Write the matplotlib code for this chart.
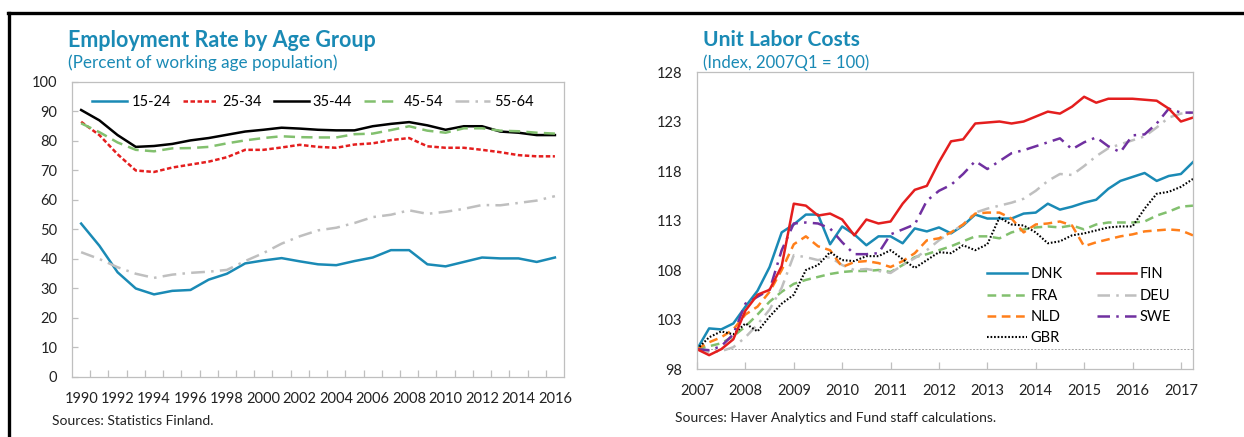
from __future__ import annotations

import numpy as np
import matplotlib
from matplotlib.figure import Figure
from matplotlib.lines import Line2D

matplotlib.rcParams["font.family"] = ["Lato", "DejaVu Sans"]

TEAL = "#1a8ab5"
SPINE = "#bfbfbf"

# --- Employment rate by age group (annual) ---
years = list(range(1990, 2017))
age_15_24 = [52.0, 44.5, 35.5, 30.0, 28.0, 29.2, 29.5, 33.0, 35.0, 38.5, 39.5, 40.3, 39.2, 38.2,
             37.9, 39.3, 40.5, 43.0, 43.0, 38.2, 37.5, 39.0, 40.5, 40.2, 40.2, 39.0, 40.5]
age_25_34 = [86.5, 82.0, 75.5, 70.0, 69.5, 71.0, 72.0, 73.0, 74.5, 77.0, 77.0, 77.8, 78.7, 78.0,
             77.7, 78.8, 79.2, 80.3, 81.0, 78.2, 77.7, 77.7, 77.0, 76.2, 75.2, 74.8, 74.8]
age_35_44 = [90.5, 87.0, 82.0, 78.0, 78.3, 79.0, 80.2, 81.0, 82.1, 83.2, 83.8, 84.5, 84.2, 83.8,
             83.6, 83.6, 85.0, 85.8, 86.4, 85.3, 83.8, 85.0, 85.0, 83.2, 82.8, 82.0, 82.0]
age_45_54 = [86.0, 83.0, 79.5, 77.0, 76.5, 77.5, 77.6, 78.0, 79.2, 80.2, 81.0, 81.6, 81.3, 81.2,
             81.2, 82.3, 82.5, 83.7, 85.0, 83.5, 82.8, 84.3, 84.3, 83.5, 83.3, 82.8, 82.5]
age_55_64 = [42.3, 40.0, 37.2, 35.0, 33.6, 34.7, 35.3, 35.7, 36.3, 39.3, 42.0, 45.2, 47.7, 49.7,
             50.6, 52.2, 54.2, 55.0, 56.5, 55.3, 56.0, 57.0, 58.3, 58.2, 59.0, 59.8, 61.3]

# --- Unit labor costs (quarterly, 2007Q1 = 100, 2007Q1..2017Q2) ---
ulc_year_labels = [str(y) for y in range(2007, 2018)]
dnk = [100.0, 102.1, 102.0, 102.6, 104.3, 105.9, 108.3, 111.8, 112.6, 113.6, 113.6, 110.6, 112.4, 111.6,
       110.5, 111.4, 111.4, 110.7, 112.2, 111.9, 112.3, 111.7, 112.5, 113.6, 113.2, 113.2, 113.2, 113.7,
       113.8, 114.7, 114.1, 114.4, 114.8, 115.1, 116.2, 117.0, 117.4, 117.8, 117.0, 117.5, 117.7, 118.9]
fin = [100.0, 99.4, 100.0, 101.0, 103.9, 105.5, 106.0, 108.4, 114.7, 114.5, 113.5, 113.7, 113.1, 111.5,
       113.1, 112.7, 112.9, 114.7, 116.1, 116.5, 118.9, 121.0, 121.2, 122.8, 122.9, 123.0, 122.8, 123.0,
       123.5, 124.0, 123.8, 124.5, 125.5, 124.9, 125.3, 125.3, 125.3, 125.2, 125.1, 124.3, 123.0, 123.4]
fra = [100.0, 100.3, 100.6, 101.3, 102.3, 103.5, 104.8, 105.8, 106.6, 107.0, 107.3, 107.6, 107.8, 107.9,
       107.9, 108.0, 107.8, 108.5, 109.3, 109.6, 110.0, 110.4, 110.9, 111.4, 111.4, 111.2, 111.8, 112.1,
       112.3, 112.4, 112.3, 112.5, 112.1, 112.6, 112.8, 112.8, 112.8, 112.9, 113.5, 113.9, 114.4, 114.5]
deu = [100.0, 99.7, 99.8, 100.2, 101.2, 102.5, 104.0, 106.2, 109.5, 109.3, 109.0, 109.3, 108.5, 108.0,
       108.1, 107.9, 107.7, 108.5, 109.2, 110.0, 111.0, 111.8, 112.6, 113.8, 114.2, 114.5, 114.8, 115.2,
       116.0, 117.0, 117.7, 117.6, 118.5, 119.5, 120.3, 120.7, 121.1, 121.5, 122.4, 123.4, 123.8, 123.9]
nld = [100.0, 100.7, 101.2, 102.0, 103.5, 104.3, 105.8, 108.0, 110.6, 111.4, 110.4, 110.0, 108.3, 108.8,
       108.9, 108.7, 108.3, 108.9, 109.7, 111.0, 111.2, 111.8, 112.6, 113.7, 113.8, 113.8, 113.2, 111.8,
       112.6, 112.7, 112.9, 112.5, 110.4, 110.8, 111.1, 111.4, 111.6, 111.9, 112.0, 112.1, 112.0, 111.5]
swe = [100.0, 99.9, 100.3, 101.5, 104.6, 105.3, 106.0, 110.0, 112.7, 112.8, 112.7, 112.2, 110.8, 109.6,
       109.6, 109.7, 111.6, 112.1, 112.6, 115.0, 116.0, 116.6, 117.7, 119.0, 118.2, 119.0, 119.8, 120.1,
       120.5, 120.9, 121.3, 120.2, 120.9, 121.4, 120.5, 119.9, 121.6, 121.7, 122.8, 124.3, 123.9, 123.9]
gbr = [100.0, 101.2, 101.8, 101.5, 102.6, 101.8, 103.3, 104.6, 105.5, 108.0, 108.5, 109.8, 109.0, 108.9,
       109.4, 109.4, 110.0, 109.1, 108.2, 109.0, 109.8, 109.7, 110.5, 110.0, 110.6, 113.3, 112.6, 112.5,
       111.8, 110.7, 110.9, 111.5, 111.7, 112.0, 112.3, 112.4, 112.4, 114.2, 115.7, 115.9, 116.4, 117.2]


def style_box(ax) -> None:
    for side in ("left", "right", "top", "bottom"):
        ax.spines[side].set_color(SPINE)
        ax.spines[side].set_linewidth(0.9)
    ax.tick_params(axis="both", labelsize=10.5, colors="#222222")
    ax.tick_params(axis="y", pad=10.5)
    ax.tick_params(axis="x", which="both", direction="in", color=SPINE, pad=11)


def draw_employment(fig: Figure) -> None:
    ax = fig.add_axes([0.0579, 0.1373, 0.3955, 0.6751])
    lw = 1.8
    ax.plot(years, age_15_24, color="#1a8ab5", lw=lw, label="15-24")
    ax.plot(years, age_25_34, color="#e41e1e", lw=lw, dashes=(1.8, 1.0), label="25-34")
    ax.plot(years, age_35_44, color="#000000", lw=lw, label="35-44")
    ax.plot(years, age_45_54, color="#82c06e", lw=lw, dashes=(4.5, 2.5), label="45-54")
    ax.plot(years, age_55_64, color="#bfbfbf", lw=lw, dashes=(5.5, 2.5, 1, 2.5), label="55-64")
    ax.set_xlim(years[0] - 0.5, years[-1] + 0.5)
    ax.set_ylim(0, 100)
    ax.set_yticks(range(0, 101, 10))
    ax.set_xticks(years[::2])
    ax.set_xticks(np.arange(years[0] + 0.5, years[-1], 1.0), minor=True)
    style_box(ax)
    ax.tick_params(axis="x", which="major", length=0)
    ax.tick_params(axis="x", which="minor", length=5, width=0.9)
    ax.tick_params(axis="y", direction="in", length=4, width=0.9, color=SPINE)
    ax.legend(loc="upper center", ncol=5, frameon=False, fontsize=10.5, handlelength=2.4,
              columnspacing=0.8, handletextpad=0.3, bbox_to_anchor=(0.49, 1.0))
    fig.text(0.0547, 0.908, "Employment Rate by Age Group", color=TEAL, fontsize=15.5,
             fontweight="bold", va="center")
    fig.text(0.0547, 0.856, "(Percent of working age population)", color=TEAL, fontsize=12.3,
             va="center")
    fig.text(0.0418, 0.037, "Sources: Statistics Finland.", fontsize=10, va="center", color="#222222")


def draw_ulc(fig: Figure) -> None:
    ax = fig.add_axes([0.5603, 0.1556, 0.3987, 0.6796])
    q = np.arange(len(dnk))
    lw = 1.8
    ax.axhline(100, color="#a6a6a6", lw=0.7, dashes=(2, 1.5), zorder=1)
    lines = {}
    lines["DNK"], = ax.plot(q, dnk, color="#1a8ab5", lw=lw)
    lines["FRA"], = ax.plot(q, fra, color="#82c06e", lw=lw, dashes=(3.5, 2.2))
    lines["DEU"], = ax.plot(q, deu, color="#bfbfbf", lw=lw, dashes=(5, 2.5, 1, 2.5))
    lines["NLD"], = ax.plot(q, nld, color="#ff7f1a", lw=lw, dashes=(3.5, 2.2))
    lines["GBR"], = ax.plot(q, gbr, color="#000000", lw=1.5, dashes=(0.8, 0.9))
    lines["SWE"], = ax.plot(q, swe, color="#7030a0", lw=lw, dashes=(5, 2.5, 1, 2.5))
    lines["FIN"], = ax.plot(q, fin, color="#e41e1e", lw=lw)
    ax.set_xlim(0, len(dnk) - 1)
    ax.set_ylim(98, 128)
    ax.set_yticks(range(98, 129, 5))
    ax.set_xticks(range(0, len(dnk), 4))
    ax.set_xticklabels(ulc_year_labels)
    style_box(ax)
    ax.tick_params(axis="y", length=0)
    ax.tick_params(axis="x", which="major", length=5, width=0.9)
    order = ["DNK", "FRA", "NLD", "GBR", "FIN", "DEU", "SWE"]
    ax.legend([lines[k] for k in order], order, loc="upper left", ncol=2, frameon=False,
              fontsize=10.5, handlelength=2.7, columnspacing=2.35, handletextpad=0.25,
              labelspacing=0.5, borderpad=0, borderaxespad=0, bbox_to_anchor=(0.585, 0.342))
    fig.text(0.565, 0.908, "Unit Labor Costs", color=TEAL, fontsize=15.2, fontweight="bold",
             va="center")
    fig.text(0.565, 0.856, "(Index, 2007Q1 = 100)", color=TEAL, fontsize=12.1, va="center")
    fig.text(0.5426, 0.043, "Sources: Haver Analytics and Fund staff calculations.", fontsize=10,
             va="center", color="#222222")


figure = Figure(figsize=(12.44, 4.37))
figure.patch.set_facecolor("white")
draw_employment(figure)
draw_ulc(figure)
# panel frame: thick rule on top and left edge
figure.add_artist(Line2D([8 / 1244, 1.0], [1 - 13 / 437, 1 - 13 / 437], color="black", lw=2.4))
figure.add_artist(Line2D([9 / 1244, 9 / 1244], [0.0, 1 - 13 / 437], color="black", lw=2.4))
figure.savefig("out.png", dpi=100)
